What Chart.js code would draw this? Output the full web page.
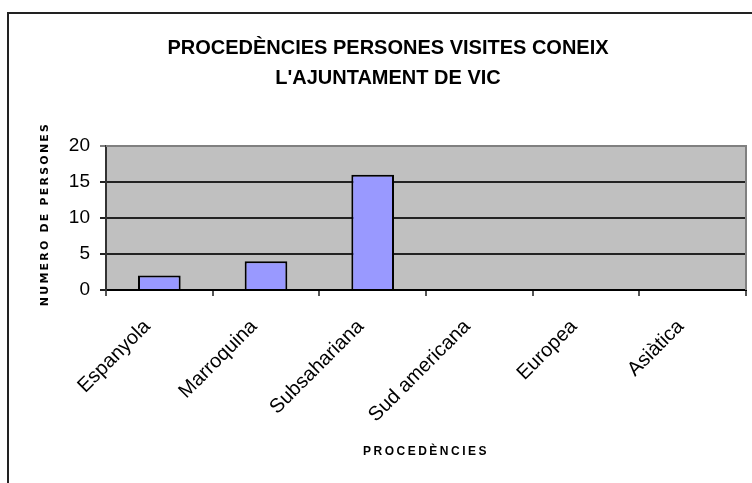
<!DOCTYPE html>
<html>
<head>
<meta charset="utf-8">
<script src="https://cdn.jsdelivr.net/npm/chart.js@4"></script>
<style>
  html, body { margin: 0; padding: 0; background: #fff; }
  #wrap { position: relative; width: 752px; height: 483px; overflow: hidden; }
  #frame { position: absolute; left: 7px; top: 12px; width: 800px; height: 600px; border: 2px solid #222; }
  canvas { position: absolute; left: 0; top: 0; }
</style>
</head>
<body>
<div id="wrap">
  <div id="frame"></div>
  <canvas id="chart" width="752" height="483"></canvas>
</div>
<script>
const categories = ["Espanyola", "Marroquina", "Subsahariana", "Sud americana", "Europea", "Asiàtica"];
const persones = [2, 4, 16, 0, 0, 0];
const yTicks = [0, 5, 10, 15, 20];

const titleLines = ["PROCEDÈNCIES PERSONES VISITES CONEIX", "L'AJUNTAMENT DE VIC"];
const yTitle = "NUMERO DE PERSONES";
const xTitle = "PROCEDÈNCIES";

// grey plot background + axis titles with letter spacing
const plotArea = {
  id: "plotArea",
  beforeDraw(chart) {
    const { ctx, chartArea: a } = chart;
    ctx.save();
    ctx.fillStyle = "#C0C0C0";
    ctx.fillRect(a.left, a.top, a.right - a.left, a.bottom - a.top);
    ctx.restore();
  },
  beforeDatasetsDraw(chart) {
    const { ctx, chartArea: a } = chart;
    ctx.save();
    ctx.strokeStyle = "#808080";
    ctx.lineWidth = 2;
    ctx.beginPath();
    ctx.moveTo(a.left, a.top);
    ctx.lineTo(a.right, a.top);
    ctx.lineTo(a.right, a.bottom);
    ctx.stroke();
    ctx.restore();
  },
  afterDraw(chart) {
    const ctx = chart.ctx;
    ctx.save();
    ctx.fillStyle = "#000";
    ctx.textAlign = "center";
    ctx.textBaseline = "middle";
    ctx.font = "bold 11px 'DejaVu Sans'";
    ctx.letterSpacing = "2.2px";
    ctx.translate(45, 214);
    ctx.rotate(-Math.PI / 2);
    ctx.fillText(yTitle, 0, 0);
    ctx.restore();

    ctx.save();
    ctx.fillStyle = "#000";
    ctx.textAlign = "center";
    ctx.textBaseline = "middle";
    ctx.font = "bold 12px 'Liberation Sans'";
    ctx.letterSpacing = "2.5px";
    ctx.fillText(xTitle, 426, 452);
    ctx.restore();
  }
};

new Chart(document.getElementById("chart"), {
  type: "bar",
  data: {
    labels: categories,
    datasets: [{
      data: persones,
      backgroundColor: "#9999FF",
      borderColor: "#000",
      borderWidth: 2,
      categoryPercentage: 1,
      barPercentage: 0.4
    }]
  },
  options: {
    responsive: false,
    animation: false,
    layout: { padding: { left: 30, right: 6, top: 0, bottom: 0 } },
    plugins: {
      legend: { display: false },
      tooltip: { enabled: false },
      title: {
        display: true,
        text: titleLines,
        color: "#000",
        font: { family: "'Liberation Sans', Arial", size: 20, weight: "bold", lineHeight: 1.5 },
        padding: { top: 33, bottom: 53 }
      }
    },
    scales: {
      x: {
        offset: true,
        afterFit(scale) { scale.height = 193; },
        grid: { offset: true, drawOnChartArea: false, tickLength: 6, color: "#555", lineWidth: 2 },
        border: { color: "#000", width: 2 },
        ticks: {
          autoSkip: false,
          maxRotation: 45,
          minRotation: 45,
          padding: 19,
          labelOffset: -12,
          color: "#000",
          font: { family: "'Liberation Sans', Arial", size: 20 }
        }
      },
      y: {
        min: 0,
        max: 20,
        afterFit(scale) { scale.width = 76; },
        afterBuildTicks(scale) { scale.ticks = yTicks.map(v => ({ value: v })); },
        grid: {
          tickLength: 6,
          lineWidth: 2,
          color: ctx => ctx.tick && ctx.tick.value === 20 ? "#808080" : "#222"
        },
        border: { color: "#333", width: 2 },
        ticks: {
          padding: 10,
          color: "#000",
          font: { family: "'Liberation Sans', Arial", size: 19 }
        }
      }
    }
  },
  plugins: [plotArea]
});
</script>
</body>
</html>
